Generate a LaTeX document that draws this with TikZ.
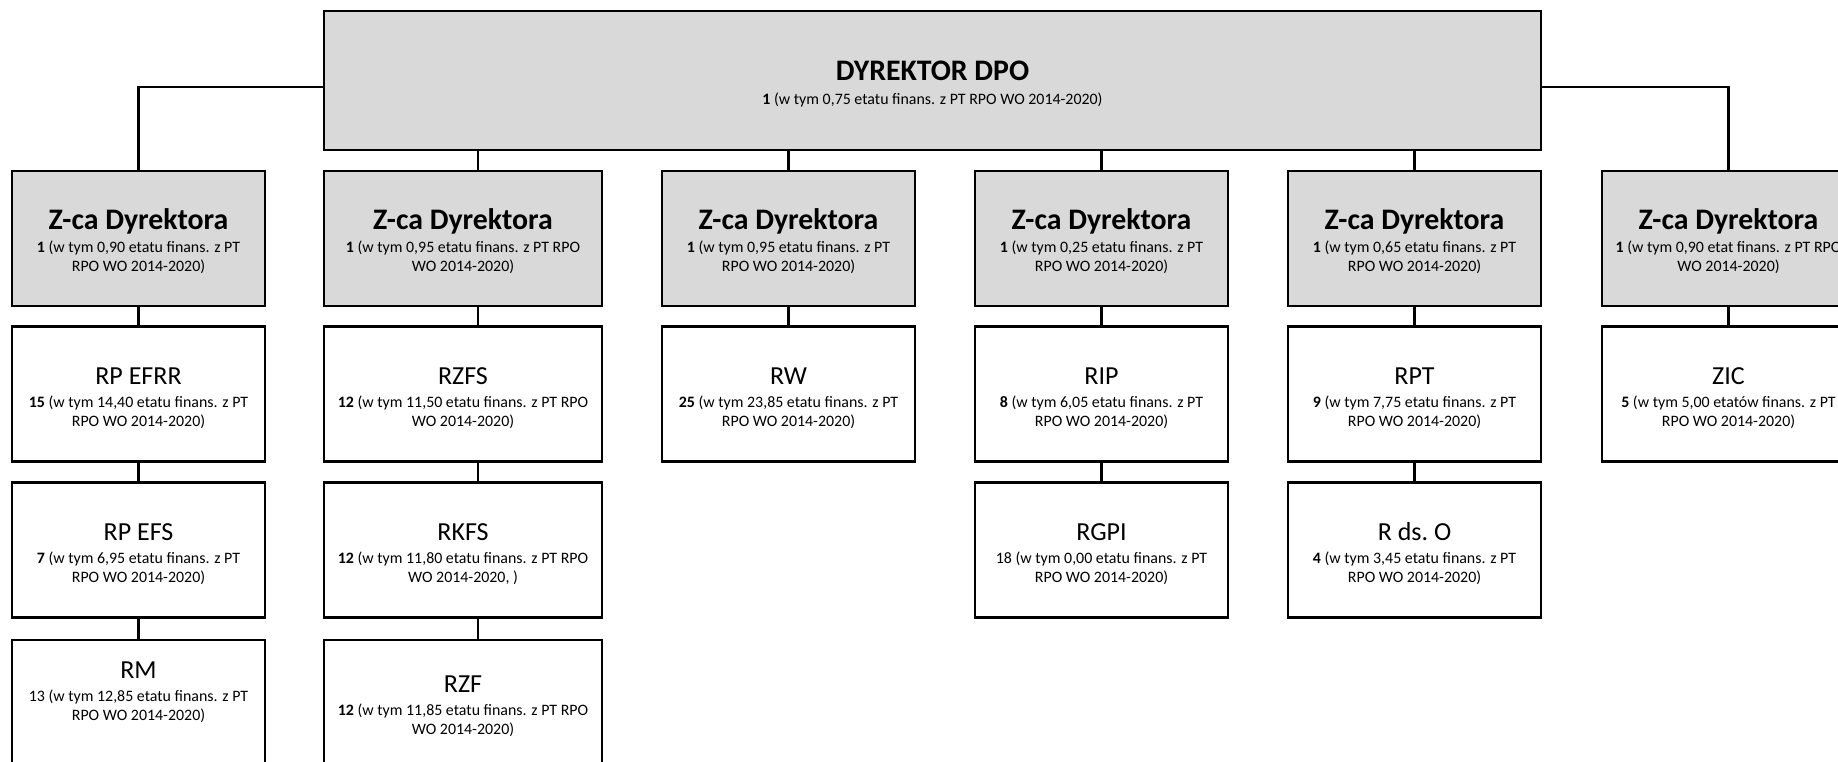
\documentclass[tikz,border=0pt]{standalone}
\usepackage{fontspec}
\setmainfont{Carlito}
\definecolor{boxgray}{RGB}{217,217,217}
\newcommand{\ttlB}{\fontsize{29.8}{34}\selectfont\bfseries}
\newcommand{\ttlR}{\fontsize{26}{30}\selectfont}
\newcommand{\subf}{\fontsize{15.9}{19.3}\selectfont}
\newcommand{\boxtxt}[6]{\parbox[c][#1pt][t]{#2pt}{\centering\rule{0pt}{#3pt}{#4}\par\vspace{#5pt}{\subf #6\par}}}
\tikzset{
  orgbox/.style={draw=black, line width=2.2pt, fill=white, inner sep=0pt, outer sep=0pt},
  headbox/.style={orgbox, fill=boxgray},
  conn/.style={draw=black, line width=2.2pt},
}
\begin{document}
\begin{tikzpicture}[x=1pt,y=-1pt]
\useasboundingbox (0,0) rectangle (1838,761);
\clip (0,0) rectangle (1838,761);
\fill[white] (0,0) rectangle (1838,761);
% top
\node[headbox] (top) at (932.5,80.5) {\boxtxt{139}{1217}{69}{\ttlB DYREKTOR DPO}{4.7}{\textbf{1} (w tym 0,75 etatu finans. z PT RPO WO 2014-2020)}};
% deputies
\node[headbox] (z1) at (138.5,238.5) {\boxtxt{135}{253}{58}{\ttlB Z-ca Dyrektora}{3.7}{\textbf{1} (w tym 0,90 etatu finans. z PT\\RPO WO 2014-2020)}};
\node[headbox] (z2) at (463,238.5) {\boxtxt{135}{278}{58}{\ttlB Z-ca Dyrektora}{3.7}{\textbf{1} (w tym 0,95 etatu finans. z PT RPO\\WO 2014-2020)}};
\node[headbox] (z3) at (788.5,238.5) {\boxtxt{135}{253}{58}{\ttlB Z-ca Dyrektora}{3.7}{\textbf{1} (w tym 0,95 etatu finans. z PT\\RPO WO 2014-2020)}};
\node[headbox] (z4) at (1101.5,238.5) {\boxtxt{135}{253}{58}{\ttlB Z-ca Dyrektora}{3.7}{\textbf{1} (w tym 0,25 etatu finans. z PT\\RPO WO 2014-2020)}};
\node[headbox] (z5) at (1414.5,238.5) {\boxtxt{135}{253}{58}{\ttlB Z-ca Dyrektora}{3.7}{\textbf{1} (w tym 0,65 etatu finans. z PT\\RPO WO 2014-2020)}};
\node[headbox] (z6) at (1728.5,238.5) {\boxtxt{135}{253}{58}{\ttlB Z-ca Dyrektora}{3.7}{\textbf{1} (w tym 0,90 etat finans. z PT RPO\\WO 2014-2020)}};
% row 2
\node[orgbox] (efrr) at (138.5,394) {\boxtxt{135}{253}{58}{\ttlR RP EFRR}{3.7}{\textbf{15} (w tym 14,40 etatu finans. z PT\\RPO WO 2014-2020)}};
\node[orgbox] (rzfs) at (463,394) {\boxtxt{135}{278}{58}{\ttlR RZFS}{3.7}{\textbf{12} (w tym 11,50 etatu finans. z PT RPO\\WO 2014-2020)}};
\node[orgbox] (rw) at (788.5,394) {\boxtxt{135}{253}{58}{\ttlR RW}{3.7}{\textbf{25} (w tym 23,85 etatu finans. z PT\\RPO WO 2014-2020)}};
\node[orgbox] (rip) at (1101.5,394) {\boxtxt{135}{253}{58}{\ttlR RIP}{3.7}{\textbf{8} (w tym 6,05 etatu finans. z PT\\RPO WO 2014-2020)}};
\node[orgbox] (rpt) at (1414.5,394) {\boxtxt{135}{253}{58}{\ttlR RPT}{3.7}{\textbf{9} (w tym 7,75 etatu finans. z PT\\RPO WO 2014-2020)}};
\node[orgbox] (zic) at (1728.5,394) {\boxtxt{135}{253}{58}{\ttlR ZIC}{3.7}{\textbf{5} (w tym 5,00 etatów finans. z PT\\RPO WO 2014-2020)}};
% row 3
\node[orgbox] (efs) at (138.5,550) {\boxtxt{135}{253}{58}{\ttlR RP EFS}{3.7}{\textbf{7} (w tym 6,95 etatu finans. z PT\\RPO WO 2014-2020)}};
\node[orgbox] (rkfs) at (463,550) {\boxtxt{135}{278}{58}{\ttlR RKFS}{3.7}{\textbf{12} (w tym 11,80 etatu finans. z PT RPO\\WO 2014-2020, )}};
\node[orgbox] (rgpi) at (1101.5,550) {\boxtxt{135}{253}{58}{\ttlR RGPI}{3.7}{18 (w tym 0,00 etatu finans. z PT\\RPO WO 2014-2020)}};
\node[orgbox] (rdso) at (1414.5,550) {\boxtxt{135}{253}{58}{\ttlR R ds.\ O}{3.7}{\textbf{4} (w tym 3,45 etatu finans. z PT\\RPO WO 2014-2020)}};
% row 4
\node[orgbox] (rm) at (138.5,707.5) {\boxtxt{135}{253}{38}{\ttlR RM}{4}{13 (w tym 12,85 etatu finans. z PT\\RPO WO 2014-2020)}};
\node[orgbox] (rzf) at (463,707.5) {\boxtxt{135}{278}{52}{\ttlR RZF}{3.7}{\textbf{12} (w tym 11,85 etatu finans. z PT RPO\\WO 2014-2020)}};
% column line for column 2
\coordinate (c2) at (478,0);
% connectors
\draw[conn] ([yshift=-6.5pt]top.west) -| (z1.north);
\draw[conn] ([yshift=-6.5pt]top.east) -| (z6.north);
\draw[conn] (top.south -| c2) -- (z2.north -| c2);
\draw[conn] (top.south -| z3.north) -- (z3.north);
\draw[conn] (top.south -| z4.north) -- (z4.north);
\draw[conn] (top.south -| z5.north) -- (z5.north);
\draw[conn] (z1.south) -- (efrr.north);
\draw[conn] (efrr.south) -- (efs.north);
\draw[conn] (efs.south) -- (rm.north);
\draw[conn] (z2.south -| c2) -- (rzfs.north -| c2);
\draw[conn] (rzfs.south -| c2) -- (rkfs.north -| c2);
\draw[conn] (rkfs.south -| c2) -- (rzf.north -| c2);
\draw[conn] (z3.south) -- (rw.north);
\draw[conn] (z4.south) -- (rip.north);
\draw[conn] (rip.south) -- (rgpi.north);
\draw[conn] (z5.south) -- (rpt.north);
\draw[conn] (rpt.south) -- (rdso.north);
\draw[conn] (z6.south) -- (zic.north);
\end{tikzpicture}
\end{document}
